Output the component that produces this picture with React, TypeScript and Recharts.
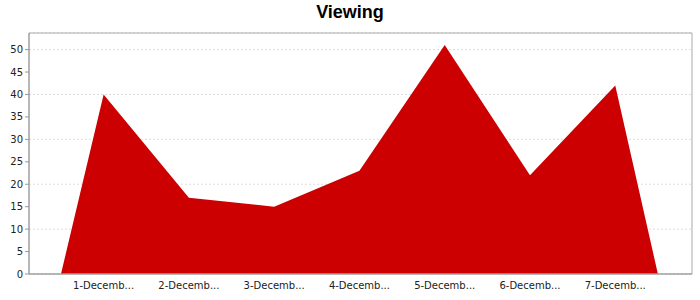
import React from 'react';
import { AreaChart, Area, XAxis, YAxis, CartesianGrid, ReferenceArea } from 'recharts';

const categories = ['1-Decemb...', '2-Decemb...', '3-Decemb...', '4-Decemb...', '5-Decemb...', '6-Decemb...', '7-Decemb...'];
const viewing = [40, 17, 15, 23, 51, 22, 42];
const yTicks = [0, 5, 10, 15, 20, 25, 30, 35, 40, 45, 50];

const data = [
  { x: 0.5, v: 0 },
  ...viewing.map((v, i) => ({ x: i + 1, v })),
  { x: categories.length + 0.5, v: 0 },
];

const X_MIN = 0.125;
const X_MAX = 7.9;
const Y_MAX = 53.7;

export default function App() {
  return (
    <div style={{ position: 'absolute', left: 0, top: 0, width: 700, height: 300, background: '#fff' }}>
      <div
        style={{
          position: 'absolute',
          left: 0,
          top: 2,
          width: 700,
          textAlign: 'center',
          fontFamily: '"Liberation Sans", Arial, sans-serif',
          fontWeight: 'bold',
          fontSize: 18,
          color: '#000',
        }}
      >
        Viewing
      </div>
      <AreaChart width={700} height={300} data={data} margin={{ top: 33, right: 8, bottom: 6, left: 0 }}>
        <CartesianGrid horizontal vertical={false} stroke="#dddddd" strokeDasharray="2 2" />
        <XAxis
          dataKey="x"
          type="number"
          domain={[X_MIN, X_MAX]}
          ticks={categories.map((_, i) => i + 1)}
          tickFormatter={(t: number) => categories[t - 1] ?? ''}
          axisLine={{ stroke: '#999' }}
          tickLine={false}
          tick={{ fontSize: 10, fill: '#222', fontFamily: '"DejaVu Sans", sans-serif' }}
          height={20}
          interval={0}
          allowDataOverflow
        />
        <YAxis
          type="number"
          domain={[0, Y_MAX]}
          ticks={yTicks}
          width={29}
          axisLine={{ stroke: '#999' }}
          tickLine={{ stroke: '#999' }}
          tickSize={4}
          tick={{ fontSize: 10, fill: '#222', fontFamily: '"DejaVu Sans", sans-serif' }}
          allowDataOverflow
        />
        <Area
          type="linear"
          dataKey="v"
          stroke="none"
          fill="#cc0000"
          fillOpacity={1}
          isAnimationActive={false}
          dot={false}
          activeDot={false}
        />
        <ReferenceArea x1={X_MIN} x2={X_MAX} y1={0} y2={Y_MAX} fill="none" stroke="#aaaaaa" strokeWidth={1} />
      </AreaChart>
    </div>
  );
}
